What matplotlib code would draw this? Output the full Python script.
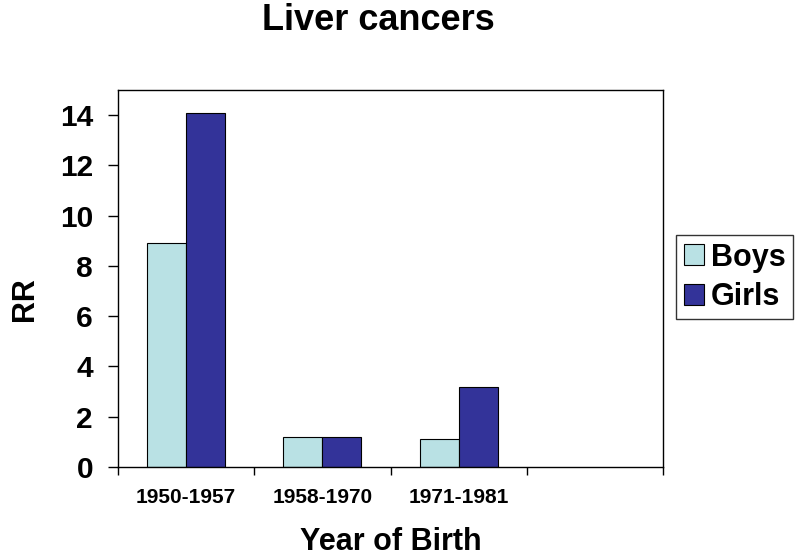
import matplotlib
matplotlib.use("Agg")
import matplotlib.pyplot as plt
import numpy as np

categories = ["1950-1957", "1958-1970", "1971-1981"]
boys = [8.9, 1.2, 1.1]
girls = [14.1, 1.2, 3.2]
yticks = [0, 2, 4, 6, 8, 10, 12, 14]
n_slots = 4

plt.rcParams['font.family'] = ['Liberation Sans', 'DejaVu Sans']
plt.rcParams['font.weight'] = 'bold'

fig = plt.figure(figsize=(8, 5.6), dpi=100)
ax = fig.add_axes([118/800, 1 - 467/560, (663 - 118)/800, (467 - 90)/560])

x = np.arange(len(categories))
w = 0.287
ax.bar(x - w/2, boys, width=w, color='#B9E1E4', edgecolor='black', linewidth=0.8, label='Boys')
ax.bar(x + w/2, girls, width=w, color='#333399', edgecolor='black', linewidth=0.8, label='Girls')

ax.set_xlim(-0.5, n_slots - 0.5)
ax.set_ylim(0, 15)
ax.set_yticks(yticks)
ax.set_yticklabels([str(v) for v in yticks], fontsize=21.5, fontweight='bold')
ax.tick_params(axis='y', direction='out', length=7, width=1, pad=11)

ax.set_xticks(np.arange(n_slots + 1) - 0.5)
ax.set_xticklabels([])
ax.tick_params(axis='x', which='major', direction='out', length=6, width=1)
ax.set_xticks(x, minor=True)
ax.set_xticklabels(categories, minor=True, fontsize=15, fontweight='bold')
ax.tick_params(axis='x', which='minor', length=0, pad=15)

for s in ax.spines.values():
    s.set_linewidth(1)
    s.set_color('black')

fig.text(378/800, 1 - 20/560, "Liver cancers", ha='center', va='center', fontsize=26, fontweight='bold')
fig.text(25/800, 1 - 299/560, "RR", ha='center', va='center', rotation=90, fontsize=22, fontweight='bold')
fig.text(391/800, 1 - 542/560, "Year of Birth", ha='center', va='center', fontsize=22, fontweight='bold')

leg = fig.legend(loc='upper left', bbox_to_anchor=(676/800, 1 - 235/560), bbox_transform=fig.transFigure,
                 borderaxespad=0, fancybox=False, frameon=True,
                 handlelength=0.68, handleheight=0.68, handletextpad=0.2, labelspacing=0.3,
                 borderpad=0.25, prop={'weight': 'bold', 'size': 22})
leg.get_frame().set_edgecolor('black')
leg.get_frame().set_linewidth(1)

fig.savefig("out.png", dpi=100)
